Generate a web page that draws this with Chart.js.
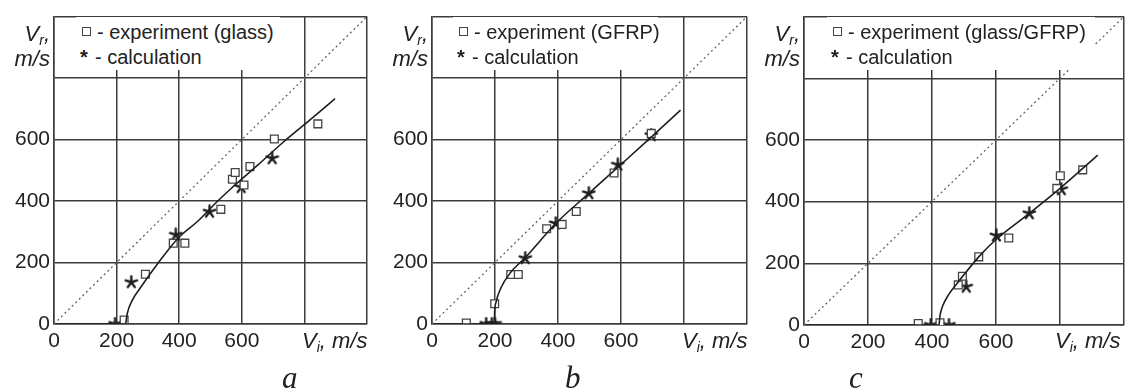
<!DOCTYPE html>
<html>
<head>
<meta charset="utf-8">
<script src="https://cdn.jsdelivr.net/npm/chart.js@4.4.0/dist/chart.umd.min.js"></script>
<style>
  body { margin: 0; background: #fff; width: 1132px; height: 391px; position: relative; overflow: hidden;
         font-family: Arial, "Liberation Sans", sans-serif; color: #222; }
  canvas { position: absolute; top: 0; }
  .legend { position: absolute; top: 17px; height: 53px; background: #fff; font-size: 20px; line-height: 25px;
            padding: 3px 0 0 4px; box-sizing: border-box; white-space: nowrap; }
  .sq { display: inline-block; width: 7px; height: 7px; border: 1.3px solid #444; margin: 0 6px 0 2px; vertical-align: 3px; }
  .star { display: inline-block; width: 15px; font-weight: bold; }
  .ylab { position: absolute; top: 21px; font-size: 22px; font-style: italic; line-height: 25px; text-align: right; }
  .xlab { position: absolute; top: 328px; font-size: 22px; font-style: italic; }
  sub { font-size: 14px; vertical-align: -4px; line-height: 0; }
  .tag { position: absolute; top: 362px; line-height: 31px; font-family: "Times New Roman", "Liberation Serif", serif;
         font-style: italic; font-size: 31px; }
</style>
</head>
<body>
<canvas id="chartA" width="375" height="391" style="left:0px"></canvas>
<canvas id="chartB" width="377" height="391" style="left:378px"></canvas>
<canvas id="chartC" width="382" height="391" style="left:750px"></canvas>

<div class="ylab" style="left:0px;width:50px">V<sub>r</sub>,<br>m/s</div>
<div class="ylab" style="left:378px;width:50px">V<sub>r</sub>,<br>m/s</div>
<div class="ylab" style="left:750px;width:50px">V<sub>r</sub>,<br>m/s</div>

<div class="legend" style="left:76px;width:204px"><span class="sq"></span>- experiment (glass)<br><span class="star">*</span>- calculation</div>
<div class="legend" style="left:453px;width:205px"><span class="sq"></span>- experiment (GFRP)<br><span class="star">*</span>- calculation</div>
<div class="legend" style="left:827px;width:268px"><span class="sq"></span>- experiment (glass/GFRP)<br><span class="star">*</span>- calculation</div>

<div class="xlab" style="left:302px">V<sub>i</sub>, m/s</div>
<div class="xlab" style="left:682px">V<sub>i</sub>, m/s</div>
<div class="xlab" style="left:1055px">V<sub>i</sub>, m/s</div>

<div class="tag" style="left:282px">a</div>
<div class="tag" style="left:565px">b</div>
<div class="tag" style="left:849px">c</div>

<script>
// axis ticks (800 and 1000 are left without a label)
const tickValues = [0, 200, 400, 600, 800, 1000];
const tickLabels = ['0', '200', '400', '600', '', ''];

// the dotted line Vr = Vi
const diagonal = [[0, 0], [1000, 1000]];

// a - glass
const expGlass = [[224, 13], [292, 162], [381, 263], [418, 263], [533, 373], [570, 471], [579, 493],
                  [607, 452], [626, 512], [704, 602], [843, 651]];
const calcGlass = [[195, 0], [247, 136], [389, 290], [497, 365], [598, 445], [697, 539]];
const zeroGlass = [[0, 0], [229, 0]];
const curveGlass = [[229, 0], [234, 34], [250, 77], [281, 125], [334, 200], [397, 280], [460, 335],
                    [520, 397], [565, 440], [649, 515], [733, 592], [817, 663], [898, 733]];

// b - GFRP
const expGfrp = [[109, 3], [199, 66], [250, 161], [274, 161], [364, 310], [413, 324], [458, 366],
                 [578, 491], [696, 620]];
const calcGfrp = [[172, 0], [190, 0], [200, 0], [296, 214], [393, 327], [498, 425], [590, 518], [696, 614]];
const zeroGfrp = [[0, 0], [198, 0]];
const curveGfrp = [[198, 0], [199, 40], [203, 70], [219, 118], [250, 168], [296, 216], [393, 327],
                   [498, 425], [599, 518], [696, 608], [789, 696]];

// c - glass/GFRP
const expMixed = [[357, 5], [425, 7], [482, 130], [495, 158], [546, 221], [640, 282], [790, 443],
                  [801, 484], [871, 503]];
const calcMixed = [[396, 0], [453, 0], [507, 124], [601, 290], [704, 362], [804, 440]];
const zeroMixed = [[0, 0], [422, 0]];
const curveMixed = [[422, 0], [425, 30], [432, 58], [453, 100], [484, 142], [546, 221], [601, 278],
                    [704, 362], [801, 444], [918, 551]];

const FONT = 'Arial, "Liberation Sans", sans-serif';
const GRID = '#3c3c3c';

function pts(arr) {
    return arr.map(p => ({x: p[0], y: p[1]}));
}

// asterisk marker like the printed "*"
function makeStar(size) {
    let c = document.createElement('canvas');
    c.width = size; c.height = size;
    let ctx = c.getContext('2d');
    ctx.strokeStyle = '#1e1e1e';
    ctx.lineWidth = 2.4;
    ctx.lineCap = 'round';
    let r = size / 2 - 1.5;
    ctx.beginPath();
    for (let k = 0; k < 5; k++) {
        let a = -Math.PI / 2 + k * 2 * Math.PI / 5;
        ctx.moveTo(size / 2, size / 2);
        ctx.lineTo(size / 2 + r * Math.cos(a), size / 2 + r * Math.sin(a));
    }
    ctx.stroke();
    return c;
}
const starImg = makeStar(15);

function drawPanel(id, exp, calc, zero, curve, box) {
    new Chart(id, {
        type: 'scatter',
        data: {
            datasets: [
                { data: pts(diagonal), showLine: true, borderColor: '#666', borderWidth: 1.3,
                  borderDash: [2, 3], pointRadius: 0 },
                { data: pts(zero), showLine: true, borderColor: '#1e1e1e', borderWidth: 1.6, pointRadius: 0 },
                { data: pts(curve), showLine: true, borderColor: '#1e1e1e', borderWidth: 1.6, pointRadius: 0,
                  cubicInterpolationMode: 'monotone' },
                { data: pts(exp), pointStyle: 'rect', pointRadius: 5.5, borderColor: '#444',
                  backgroundColor: '#fff', borderWidth: 1.3 },
                { data: pts(calc), pointStyle: starImg, pointRadius: 7 }
            ]
        },
        options: {
            responsive: false,
            animation: false,
            devicePixelRatio: 1,
            layout: { padding: { top: box.top, right: box.right, left: 0, bottom: 0 } },
            plugins: { legend: { display: false }, tooltip: { enabled: false } },
            scales: {
                x: {
                    type: 'linear', min: 0, max: 1000,
                    afterBuildTicks: s => { s.ticks = tickValues.map(v => ({value: v})); },
                    afterFit: s => { s.height = 391 - box.bottom; },
                    ticks: { callback: v => tickLabels[tickValues.indexOf(v)], autoSkip: false, maxRotation: 0,
                             padding: 5, color: '#222', font: { family: FONT, size: 21 } },
                    grid: { color: GRID, lineWidth: 1.5, drawTicks: false },
                    border: { color: GRID, width: 1.5 }
                },
                y: {
                    type: 'linear', min: 0, max: 1000,
                    afterBuildTicks: s => { s.ticks = tickValues.map(v => ({value: v})); },
                    afterFit: s => { s.width = box.left; },
                    ticks: { callback: v => tickLabels[tickValues.indexOf(v)], autoSkip: false,
                             padding: 4, color: '#222', font: { family: FONT, size: 21 } },
                    grid: { color: GRID, lineWidth: 1.5, drawTicks: false },
                    border: { color: GRID, width: 1.5 }
                }
            }
        }
    });
}

drawPanel('chartA', expGlass, calcGlass, zeroGlass, curveGlass, {left: 54, top: 12, right: 4, bottom: 324});
drawPanel('chartB', expGfrp, calcGfrp, zeroGfrp, curveGfrp, {left: 54, top: 12, right: 3, bottom: 324});
drawPanel('chartC', expMixed, calcMixed, zeroMixed, curveMixed, {left: 54, top: 10, right: 6, bottom: 325});
</script>
</body>
</html>
